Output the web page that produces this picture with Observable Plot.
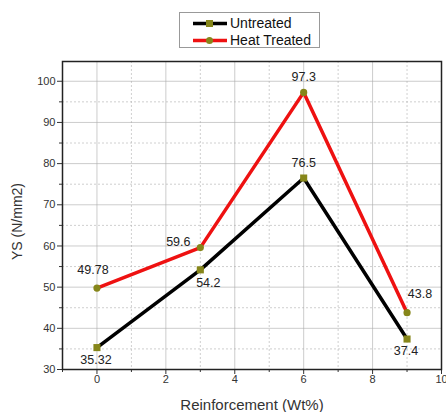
<!DOCTYPE html>
<html>
<head>
<meta charset="utf-8">
<script src="https://cdn.jsdelivr.net/npm/d3@7"></script>
<script src="https://cdn.jsdelivr.net/npm/@observablehq/plot@0.6"></script>
<style>
  html, body { margin: 0; padding: 0; background: #fff; }
  #wrap { position: relative; width: 446px; height: 412px; font-family: "Liberation Sans", Arial, sans-serif; }
  #legend { position: absolute; left: 179px; top: 12px; width: 141px; height: 36px; border: 1px solid #999; background: #fff; box-sizing: border-box; }
  .row { position: absolute; left: 12px; height: 18px; display: flex; align-items: center; font-size: 14px; color: #111; }
  .row svg { margin-right: 2px; }
</style>
</head>
<body>
<div id="wrap"></div>
<script>
// ---- data ----
const reinforcement = [0, 3, 6, 9];
const untreated = [35.32, 54.2, 76.5, 37.4];
const heatTreated = [49.78, 59.6, 97.3, 43.8];
const seriesNames = ["Untreated", "Heat Treated"];
const xTicks = [0, 2, 4, 6, 8, 10];
const xMinor = [-1, 1, 3, 5, 7, 9];
const yTicks = [30, 40, 50, 60, 70, 80, 90, 100];
const yMinor = [35, 45, 55, 65, 75, 85, 95];
// label placement names (not data)
const untreatedLabelPos = ["below", "belowRight", "above", "below"];
const heatLabelPos = ["aboveLeftSmall", "left", "above", "aboveRight"];

const offsets = {
  below: [-1, 12],
  belowRight: [8, 13],
  above: [0, -15],
  aboveLeftSmall: [-4, -18],
  left: [-22, -6],
  aboveRight: [13, -19]
};

const rows = [];
reinforcement.forEach((x, i) => rows.push({x, y: untreated[i], s: seriesNames[0], pos: untreatedLabelPos[i]}));
reinforcement.forEach((x, i) => rows.push({x, y: heatTreated[i], s: seriesNames[1], pos: heatLabelPos[i]}));

const colors = {"Untreated": "#000000", "Heat Treated": "#ee1111"};
const marker = "#86861a";

const textMarks = Object.keys(offsets).map(k => Plot.text(rows.filter(r => r.pos === k), {
  x: "x", y: "y", text: d => String(d.y), dx: offsets[k][0], dy: offsets[k][1],
  fontSize: 12.5, fill: "#222", stroke: "none"
}));

const chart = Plot.plot({
  width: 446,
  height: 412,
  marginTop: 61,
  marginBottom: 43,
  marginLeft: 62,
  marginRight: 5,
  style: { fontFamily: "Liberation Sans, Arial, sans-serif", fontSize: "11px", color: "#333", background: "#fff" },
  x: { domain: [-1, 10] },
  y: { domain: [30, 104.8] },
  marks: [
    Plot.gridX(xMinor, { stroke: "#bbb", strokeOpacity: 0.7, strokeDasharray: "2,2" }),
    Plot.gridY(yMinor, { stroke: "#bbb", strokeOpacity: 0.7, strokeDasharray: "2,2" }),
    Plot.gridX(xTicks, { stroke: "#aaa", strokeOpacity: 0.6 }),
    Plot.gridY(yTicks, { stroke: "#aaa", strokeOpacity: 0.6 }),
    Plot.axisX(xMinor, { tickSize: 3, text: null, label: null, stroke: "#333" }),
    Plot.axisY(yMinor, { tickSize: 3, text: null, label: null, stroke: "#333" }),
    Plot.axisX(xTicks, { tickSize: 5, tickPadding: 1, fontSize: 11, fill: "#333", stroke: "#333",
      label: "Reinforcement (Wt%)", labelAnchor: "center", labelArrow: "none", labelOffset: 40 }),
    Plot.axisY(yTicks, { tickSize: 5, tickPadding: 2, fontSize: 11, fill: "#333", stroke: "#333",
      label: "YS (N/mm2)", labelAnchor: "center", labelArrow: "none", labelOffset: 50 }),
    Plot.frame({ stroke: "#222", strokeWidth: 1.5 }),
    Plot.line(rows, { x: "x", y: "y", z: "s", stroke: d => colors[d.s], strokeWidth: 3.5 }),
    Plot.dot(rows.filter(r => r.s === "Untreated"), { x: "x", y: "y", symbol: "square", r: 4, fill: marker, stroke: "none" }),
    Plot.dot(rows.filter(r => r.s === "Heat Treated"), { x: "x", y: "y", symbol: "circle", r: 3.6, fill: marker, stroke: "none" }),
    ...textMarks
  ]
});

// axis title fonts
chart.querySelectorAll("[aria-label='x-axis label'] text").forEach(t => {
  t.setAttribute("font-size", "15");
  t.style.fontSize = "15px";
});
chart.querySelectorAll("[aria-label='y-axis label'] text").forEach(t => {
  t.setAttribute("font-size", "14");
  t.style.fontSize = "14px";
  t.setAttribute("dx", "-6");
});

const wrap = document.getElementById("wrap");
wrap.appendChild(chart);

// legend
const legend = document.createElement("div");
legend.id = "legend";
seriesNames.forEach((name, i) => {
  const row = document.createElement("div");
  row.className = "row";
  row.style.top = (i === 0 ? 1 : 18) + "px";
  const sym = i === 0
    ? `<rect x="14" y="5" width="7" height="7" fill="${marker}"/>`
    : `<circle cx="17.5" cy="8.5" r="3.5" fill="${marker}"/>`;
  row.innerHTML = `<svg width="36" height="17"><line x1="1" x2="35" y1="8.5" y2="8.5" stroke="${colors[name]}" stroke-width="3.5"/>${sym}</svg><span>${name}</span>`;
  legend.appendChild(row);
});
wrap.appendChild(legend);
</script>
</body>
</html>
